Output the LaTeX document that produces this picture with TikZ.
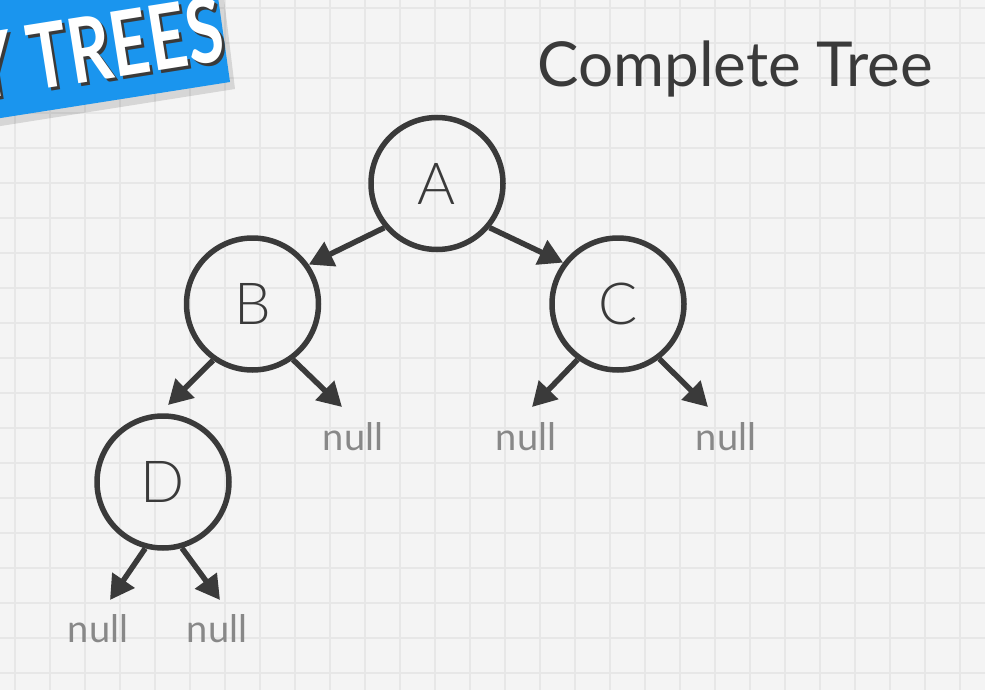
\documentclass[tikz,border=0pt]{standalone}
\usepackage{fontspec}
\setmainfont{Lato}
\newfontfamily\lightfont{Lato Light}
\usetikzlibrary{arrows.meta}
\definecolor{ink}{HTML}{3A3A3A}
\definecolor{nullgray}{HTML}{888888}
\definecolor{bgc}{HTML}{F4F4F4}
\definecolor{gridc}{HTML}{E7E7E7}
\definecolor{banner}{HTML}{1A95EE}
\begin{document}
\begin{tikzpicture}[x=1pt,y=-1pt,
  tn/.style={circle, draw=ink, line width=5.5pt, minimum size=132pt, inner sep=0pt, text=ink, font=\lightfont\fontsize{58}{60}\selectfont},
  nl/.style={text=nullgray, font=\fontsize{38}{40}\selectfont, inner sep=0pt, anchor=base},
  arr/.style={draw=ink, line width=5.5pt, -{Triangle[length=24pt,width=26pt]}},
  bannerfont/.style={rotate=9, font=\fontsize{90}{92}\selectfont\bfseries, inner sep=0pt}]
\useasboundingbox (0,0) rectangle (985,690);
\fill[bgc] (0,0) rectangle (985,690);
\foreach \x in {15,50,...,985} \draw[gridc, line width=1.1pt] (\x,0) -- (\x,690);
\foreach \y in {8,43,...,690} \draw[gridc, line width=1.1pt] (0,\y) -- (985,\y);
% banner
\fill[black, opacity=0.12] (-12,128) -- (235,89) -- (223,-10) -- (-30,-10) -- cycle;
\fill[banner] (-12,120) -- (230,82) -- (217,-10) -- (-30,-10) -- cycle;
\node[bannerfont, text=ink] (bannershadow) at (99,51) {\scalebox{0.74}[1]{Y TREES}};
\node[bannerfont, text=white] (bannertext) at (96,48) {\scalebox{0.74}[1]{Y TREES}};
% title
\node[text=ink, font=\fontsize{62}{64}\selectfont, anchor=base west, inner sep=0pt] (title) at (537,87) {Complete Tree};
% tree nodes
\node[tn] (A) at (437,183.5) {A};
\node[tn] (B) at (252.5,304) {B};
\node[tn] (C) at (618,304) {C};
\node[tn] (D) at (163,482) {D};
% null labels
\node[nl] (nB) at (353,450) {null};
\node[nl] (nC1) at (526,450) {null};
\node[nl] (nC2) at (726,450) {null};
\node[nl] (nD1) at (98,642) {null};
\node[nl] (nD2) at (217,642) {null};
% arrow end points
\coordinate (tBL) at (168,405);
\coordinate (tBR) at (342,407);
\coordinate (tCL) at (532,407);
\coordinate (tCR) at (708,407);
\coordinate (tDL) at (110,600);
\coordinate (tDR) at (220,600);
% arrows
\draw[arr] (A.220) -- (B.35);
\draw[arr] (A.320) -- (C.143);
\draw[arr] (B.235) -- (tBL);
\draw[arr] (B.306) -- (tBR);
\draw[arr] (C.234) -- (tCL);
\draw[arr] (C.307) -- (tCR);
\draw[arr] (D.255) -- (tDL);
\draw[arr] (D.286) -- (tDR);
\end{tikzpicture}
\end{document}
